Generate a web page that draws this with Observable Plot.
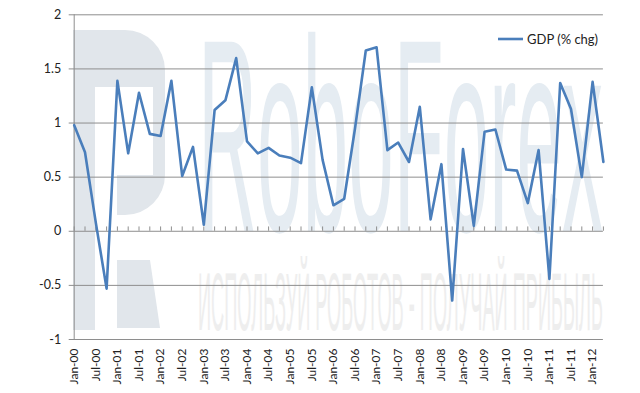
<!DOCTYPE html>
<html>
<head>
<meta charset="utf-8">
<script src="https://cdn.jsdelivr.net/npm/d3@7"></script>
<script src="https://cdn.jsdelivr.net/npm/@observablehq/plot@0.6"></script>
<style>
  html, body { margin: 0; padding: 0; background: #ffffff; }
  #chart { width: 640px; height: 393px; }
</style>
</head>
<body>
<div id="chart"></div>
<script>
// Quarter categories (Jan-00 .. Apr-12)
const quarters = [
  "Jan-00","Apr-00","Jul-00","Oct-00","Jan-01","Apr-01","Jul-01","Oct-01",
  "Jan-02","Apr-02","Jul-02","Oct-02","Jan-03","Apr-03","Jul-03","Oct-03",
  "Jan-04","Apr-04","Jul-04","Oct-04","Jan-05","Apr-05","Jul-05","Oct-05",
  "Jan-06","Apr-06","Jul-06","Oct-06","Jan-07","Apr-07","Jul-07","Oct-07",
  "Jan-08","Apr-08","Jul-08","Oct-08","Jan-09","Apr-09","Jul-09","Oct-09",
  "Jan-10","Apr-10","Jul-10","Oct-10","Jan-11","Apr-11","Jul-11","Oct-11",
  "Jan-12","Apr-12"
];
// GDP (% chg) values
const gdp = [
  0.98, 0.73, 0.08, -0.53, 1.39, 0.72, 1.28, 0.90,
  0.88, 1.39, 0.51, 0.78, 0.06, 1.12, 1.21, 1.60,
  0.83, 0.72, 0.77, 0.70, 0.68, 0.63, 1.33, 0.66,
  0.24, 0.30, 0.95, 1.67, 1.70, 0.75, 0.82, 0.64,
  1.15, 0.11, 0.62, -0.64, 0.76, 0.05, 0.92, 0.94,
  0.57, 0.56, 0.26, 0.75, -0.44, 1.37, 1.13, 0.50,
  1.38, 0.64
];
// Tick labels shown on the category axis (every second quarter)
const xTickLabels = [
  "Jan-00","Jul-00","Jan-01","Jul-01","Jan-02","Jul-02","Jan-03","Jul-03",
  "Jan-04","Jul-04","Jan-05","Jul-05","Jan-06","Jul-06","Jan-07","Jul-07",
  "Jan-08","Jul-08","Jan-09","Jul-09","Jan-10","Jul-10","Jan-11","Jul-11",
  "Jan-12"
];
const yTicks = [-1, -0.5, 0, 0.5, 1, 1.5, 2];
const seriesName = "GDP (% chg)";

const data = gdp.map((v, i) => ({i, q: quarters[i], v}));
const labelPos = xTickLabels.map(l => quarters.indexOf(l));
const lineColor = "#4a7ebb";
const gridColor = "#8e8e8e";

const chart = Plot.plot({
  width: 640,
  height: 393,
  marginLeft: 73.7,
  marginRight: 37.1,
  marginTop: 14.3,
  marginBottom: 54,
  x: {type: "linear", domain: [0, quarters.length - 1], label: null},
  y: {domain: [-1, 2], label: null},
  style: {fontFamily: "Lato, 'Open Sans', sans-serif", fontSize: "12px", color: "#222", background: "#ffffff", overflow: "visible"},
  marks: [
    Plot.ruleY(yTicks, {stroke: gridColor, strokeWidth: 1, insetLeft: -5}),
    Plot.ruleX([0], {y1: -1, y2: 2, stroke: gridColor, strokeWidth: 1}),
    Plot.ruleX(data, {x: "i", y1: 0, y2: 0.04, stroke: gridColor, strokeWidth: 1}),
    Plot.line(data, {x: "i", y: "v", stroke: lineColor, strokeWidth: 2.6, strokeLinejoin: "round", strokeLinecap: "round"}),
    Plot.axisY({ticks: yTicks, tickSize: 0, tickPadding: 13, tickFormat: d => String(d), fontSize: 12.5, label: null}),
    Plot.axisX({ticks: labelPos, tickSize: 0, tickPadding: 9, tickRotate: -90, tickFormat: i => quarters[i], label: null})
  ]
});

document.getElementById("chart").appendChild(chart);

const svg = d3.select(chart);
// faint background watermark, as in the picture
const wm = svg.insert("g", ":first-child").attr("aria-hidden", "true").attr("text-anchor", "start");
wm.append("path")
  .attr("d", "M73,30 H125 A40,40 0 0 1 165,70 V175 A40,40 0 0 1 125,215 H117 V175 H153 V87 H95 V330 H73 Z")
  .attr("fill", "#e1e6eb");
wm.append("path")
  .attr("d", "M117,260 H150 L160,328 H117 Z")
  .attr("fill", "#e1e6eb");

function squeezedText(str, x, y, size, width, fill) {
  const t = wm.append("text")
    .attr("x", 0).attr("y", 0)
    .attr("text-anchor", "start")
    .attr("font-family", "'Liberation Sans Narrow', 'Liberation Sans', sans-serif")
    .attr("font-size", size)
    .attr("fill", fill)
    .text(str);
  const w = t.node().getComputedTextLength() || width;
  t.attr("transform", `translate(${x},${y}) scale(${width / w},1)`);
}
squeezedText("RoboForex", 198, 231, 275, 405, "#e5ecf2");
squeezedText("ИСПОЛЬЗУЙ РОБОТОВ - ПОЛУЧАЙ ПРИБЫЛЬ", 198, 330, 82, 405, "#eeeeee");

// a white backdrop under the whole thing
svg.insert("rect", ":first-child").attr("width", 640).attr("height", 393).attr("fill", "#ffffff");

// legend inside the plot area, top right
const lg = svg.append("g").attr("text-anchor", "start");
lg.append("line").attr("x1", 498).attr("x2", 523).attr("y1", 39).attr("y2", 39)
  .attr("stroke", lineColor).attr("stroke-width", 2.6);
lg.append("text").attr("x", 527).attr("y", 39).attr("dy", "0.35em")
  .attr("text-anchor", "start")
  .attr("font-family", "Lato, 'Open Sans', sans-serif").attr("font-size", 13).attr("fill", "#222")
  .text(seriesName);
</script>
</body>
</html>
